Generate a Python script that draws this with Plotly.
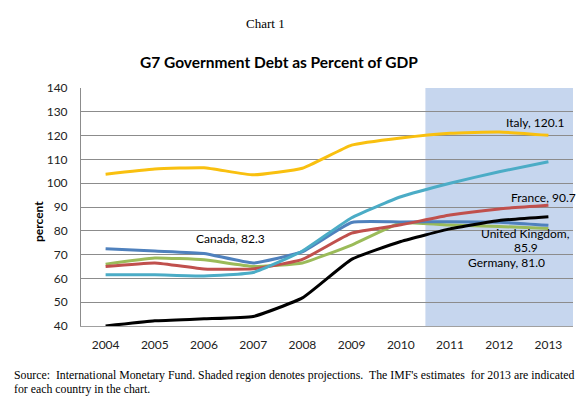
import plotly.graph_objects as go

years = [2004, 2005, 2006, 2007, 2008, 2009, 2010, 2011, 2012, 2013]
y_ticks = [40, 50, 60, 70, 80, 90, 100, 110, 120, 130, 140]

canada = [72.5, 71.5, 70.5, 66.5, 71.2, 83.5, 83.7, 83.8, 83.6, 82.3]
france = [65.0, 66.5, 64.0, 64.0, 68.0, 79.0, 82.5, 86.6, 89.2, 90.7]
germany = [66.0, 68.6, 67.8, 65.0, 66.5, 74.0, 83.3, 82.4, 81.8, 81.0]
italy = [103.8, 106.0, 106.5, 103.5, 106.3, 116.0, 119.0, 121.0, 121.5, 120.1]
uk = [40.0, 42.2, 43.0, 44.0, 51.8, 68.0, 75.5, 80.8, 84.3, 85.9]
us = [61.5, 61.5, 61.0, 62.5, 71.5, 85.5, 94.3, 100.0, 104.8, 109.0]

series = [
    ("Germany", germany, "#9BBB59"),
    ("Canada", canada, "#4F81BD"),
    ("France", france, "#C0504D"),
    ("United States", us, "#4BACC6"),
    ("United Kingdom", uk, "#000000"),
    ("Italy", italy, "#F9C00F"),
]

L, R, T, B = 81, 573, 88, 326
PW, PH = R - L, B - T

fig = go.Figure()
for name, vals, col in series:
    fig.add_trace(go.Scatter(x=years, y=vals, mode="lines", name=name,
                             line=dict(color=col, width=3, shape="spline", smoothing=0.4)))

fig.add_shape(type="rect", xref="x", yref="paper", x0=2010.5, x1=2013.5, y0=0, y1=1,
              fillcolor="#C6D6EE", line_width=0, layer="below")

lab_font = dict(family="Lato", size=12, color="#000000")
labels = [
    ("Canada, 82.3", 2006.54, 76.6),
    ("Italy, 120.1", 2012.74, 125.3),
    ("France, 90.7", 2012.9, 94.2),
    ("United Kingdom,", 2012.54, 78.7),
    ("85.9", 2012.54, 72.8),
    ("Germany, 81.0", 2012.15, 66.5),
]
anns = []
for t, x, y in labels:
    anns.append(dict(text=t, x=x, y=y, xref="x", yref="y", showarrow=False, font=lab_font,
                     xanchor="center", yanchor="middle"))


def px(xp, yp, text, font, xanchor="center", **kw):
    return dict(text=text, x=(xp - L) / PW, y=(B - yp) / PH, xref="paper", yref="paper",
                showarrow=False, xanchor=xanchor, yanchor="middle", font=font, **kw)


anns += [
    px(265, 23, "Chart 1", dict(family="Liberation Serif", size=13, color="#000")),
    px(279, 62, "<b>G7 Government Debt as Percent of GDP</b>", dict(family="Lato", size=15.5, color="#000")),
    px(38, 222, "<b>percent</b>", dict(family="Lato", size=12, color="#000"), textangle=-90),
    px(12, 375, "Source:  International Monetary Fund. Shaded region denotes projections.  The IMF's estimates  for 2013 are indicated",
       dict(family="Liberation Serif", size=11.8, color="#000"), xanchor="left"),
    px(12, 389, "for each country in the chart.", dict(family="Liberation Serif", size=11.8, color="#000"), xanchor="left"),
]

fig.update_layout(
    width=587, height=399,
    margin=dict(l=L, r=587 - R, t=T, b=399 - B),
    paper_bgcolor="white", plot_bgcolor="white",
    showlegend=False,
    annotations=anns,
)

fig.update_xaxes(range=[2003.5, 2013.5], tickvals=years, ticktext=[str(y) for y in years],
                 showgrid=False, showline=True, linecolor="#A0A0A0", linewidth=1,
                 ticks="", ticklabelstandoff=8,
                 tickfont=dict(family="Lato", size=12, color="#222"), zeroline=False)
fig.update_yaxes(range=[40, 140], tickvals=y_ticks, showgrid=True, gridcolor="#8C8C8C", gridwidth=1,
                 showline=True, linecolor="#8C8C8C", linewidth=1, ticks="", ticklabelstandoff=10,
                 tickfont=dict(family="Lato", size=12, color="#222"), zeroline=False)

fig.write_html("out.html", config={"displayModeBar": False},
               post_script="document.body.style.margin='0';document.body.style.overflow='hidden';")
